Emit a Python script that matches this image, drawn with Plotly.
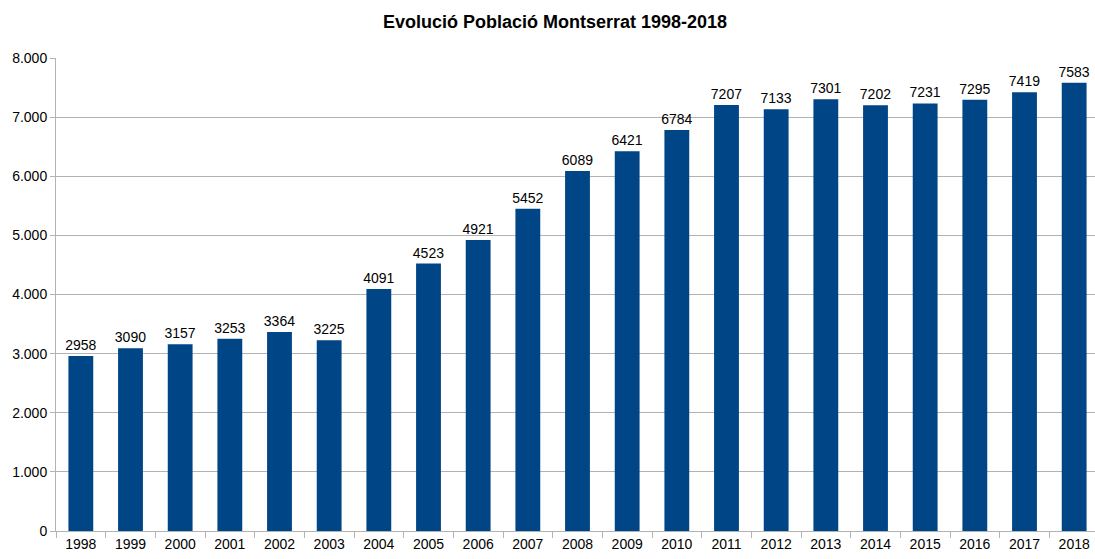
import plotly.graph_objects as go

years = [str(y) for y in range(1998, 2019)]
population = [2958, 3090, 3157, 3253, 3364, 3225, 4091, 4523, 4921, 5452, 6089,
              6421, 6784, 7207, 7133, 7301, 7202, 7231, 7295, 7419, 7583]
ytick_vals = [0, 1000, 2000, 3000, 4000, 5000, 6000, 7000, 8000]
ytick_text = ["0", "1.000", "2.000", "3.000", "4.000", "5.000", "6.000", "7.000", "8.000"]

FONT = "Liberation Sans, Arial, sans-serif"

fig = go.Figure(go.Bar(
    x=years, y=population,
    marker=dict(color="#004586", line=dict(width=0)),
    width=0.5,
    text=[str(v) for v in population],
    textposition="outside",
    constraintext="none",
    textfont=dict(family=FONT, size=14, color="#000000"),
    cliponaxis=False,
    hoverinfo="skip",
))

fig.update_layout(
    width=1099, height=559,
    margin=dict(l=56, r=0, t=58, b=28),
    paper_bgcolor="white", plot_bgcolor="white",
    font=dict(family=FONT, size=14, color="#000000"),
    title=dict(text="<b>Evolució Població Montserrat 1998-2018</b>",
               font=dict(family=FONT, size=18, color="#000000"),
               x=555 / 1099, xref="container", xanchor="center",
               y=1 - 21.5 / 559, yref="container", yanchor="middle"),
    showlegend=False,
    bargap=0.5,
)
fig.update_xaxes(
    type="category", showgrid=False, showline=True, linecolor="#b3b3b3", linewidth=1,
    ticks="outside", tickson="boundaries", ticklen=6, tickcolor="#b3b3b3",
    tickfont=dict(family=FONT, size=14, color="#000000"),
)
fig.update_yaxes(
    range=[0, 8000], tickvals=ytick_vals, ticktext=ytick_text,
    showgrid=True, gridcolor="#b3b3b3", gridwidth=1,
    showline=True, linecolor="#b3b3b3", linewidth=1,
    ticks="outside", ticklen=5, tickcolor="#b3b3b3",
    tickfont=dict(family=FONT, size=14, color="#000000"),
    zeroline=False,
)

fig.write_html(
    "out.html",
    config={"displayModeBar": False},
    post_script="document.body.style.margin='0';document.body.style.overflow='hidden';",
)
